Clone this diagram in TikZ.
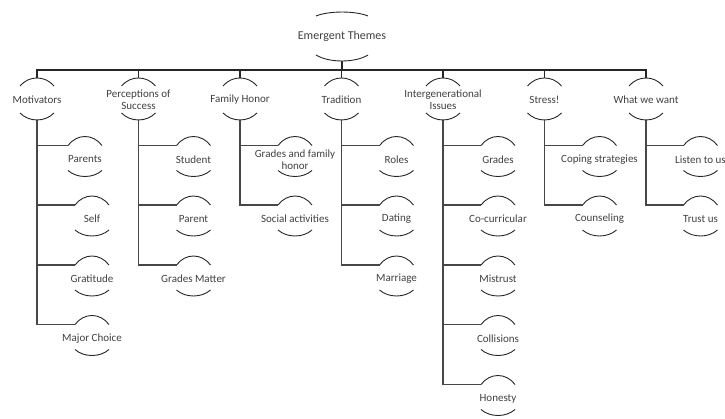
\documentclass[tikz,border=0pt]{standalone}
\usepackage{fontspec}
\setmainfont{Carlito}
\definecolor{txt}{HTML}{404040}
\definecolor{ln}{HTML}{262626}
\tikzset{
  lbl/.style={inner sep=0pt, align=center, text=txt, font=\fontsize{11}{12}\selectfont},
  toplbl/.style={inner sep=0pt, align=center, text=txt, font=\fontsize{12}{13}\selectfont},
  arcline/.style={draw=ln, line width=0.9pt},
  link/.style={draw=ln, line width=1.3pt},
  sublink/.style={draw=ln!85, line width=1.1pt}
}
% #1 node, #2 half chord, #3 end dy, #4 control dy, #5 control dx
\newcommand\arcpiece[5]{%
  \draw[arcline] ([shift={(-#2,#3)}]#1.center) .. controls ([shift={(-#5,#4)}]#1.center) and ([shift={(#5,#4)}]#1.center) .. ([shift={(#2,#3)}]#1.center);}
\newcommand\levelarcs[1]{\arcpiece{#1}{17}{-14}{-24.7}{8}\arcpiece{#1}{17}{13}{22.3}{8}}
\newcommand\childarcs[1]{\arcpiece{#1}{17}{-14}{-26}{8}\arcpiece{#1}{17}{11}{19}{8}}
\newcommand\childlink[2]{%
  \draw[sublink] ([shift={(0,20)}]#1.center) |- ([shift={(-17,-14)}]#2.center);}
\begin{document}
\begin{tikzpicture}[x=1pt,y=-1pt]
\useasboundingbox (0,0) rectangle (725,419);
% root
\node[toplbl] (root) at (342,36) {Emergent Themes};
\arcpiece{root}{26}{-20}{-25.3}{13}
\arcpiece{root}{26}{19}{27}{13}
\coordinate (bar) at (342,70);
\draw[link, line width=1.8pt] ([shift={(0,25)}]root.center) -- (bar);
% level 1
\node[lbl] (mot) at (37,100) {Motivators};
\node[lbl] (per) at (138.5,100) {Perceptions of\\Success};
\node[lbl] (fam) at (240,100) {Family Honor};
\node[lbl] (tra) at (341.5,100) {Tradition};
\node[lbl] (int) at (443,100) {Intergenerational\\Issues};
\node[lbl] (str) at (544.5,100) {Stress!};
\node[lbl] (wha) at (646,100) {What we want};
\foreach \n in {mot,per,fam,tra,int,str,wha}{
  \levelarcs{\n}
  \draw[link] (bar) -| ([shift={(0,-22)}]\n.center);
}
% children
\node[lbl] (c11) at (85,159.5) {Parents};
\node[lbl] (c12) at (92,219) {Self};
\node[lbl] (c13) at (92,279) {Gratitude};
\node[lbl] (c14) at (92,338.5) {Major Choice};
\node[lbl] (c21) at (193.5,159.5) {Student};
\node[lbl] (c22) at (193.5,219) {Parent};
\node[lbl] (c23) at (193.5,279) {Grades Matter};
\node[lbl] (c31) at (295,159.5) {Grades and family\\honor};
\node[lbl] (c32) at (295,219) {Social activities};
\node[lbl] (c41) at (396.5,159.5) {Roles};
\node[lbl] (c42) at (396.5,219) {Dating};
\node[lbl] (c43) at (396.5,279) {Marriage};
\node[lbl] (c51) at (498,159.5) {Grades};
\node[lbl] (c52) at (498,219) {Co-curricular};
\node[lbl] (c53) at (498,279) {Mistrust};
\node[lbl] (c54) at (498,338.5) {Collisions};
\node[lbl] (c55) at (498,398.5) {Honesty};
\node[lbl] (c61) at (599.5,159.5) {Coping strategies};
\node[lbl] (c62) at (599.5,219) {Counseling};
\node[lbl] (c71) at (700.5,159.5) {Listen to us};
\node[lbl] (c72) at (700.5,219) {Trust us};
\foreach \p/\c in {mot/c11,mot/c12,mot/c13,mot/c14,per/c21,per/c22,per/c23,fam/c31,fam/c32,tra/c41,tra/c42,tra/c43,int/c51,int/c52,int/c53,int/c54,int/c55,str/c61,str/c62,wha/c71,wha/c72}{
  \childarcs{\c}
  \childlink{\p}{\c}
}
\end{tikzpicture}
\end{document}
